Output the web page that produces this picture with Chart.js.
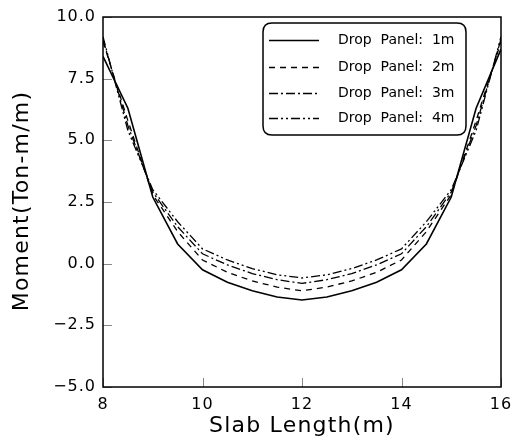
<!DOCTYPE html>
<html>
<head>
<meta charset="utf-8">
<script src="https://cdn.jsdelivr.net/npm/chart.js@4"></script>
<style>
html,body{margin:0;padding:0;background:#fff;}
#wrap{width:512px;height:438px;}
</style>
</head>
<body>
<div id="wrap"><canvas id="c" width="512" height="438"></canvas></div>
<script>
const xValues = [8, 8.5, 9, 9.5, 10, 10.5, 11, 11.5, 12, 12.5, 13, 13.5, 14, 14.5, 15, 15.5, 16];
const panel1m = [8.4, 6.3, 2.7, 0.8, -0.25, -0.75, -1.1, -1.35, -1.47, -1.35, -1.1, -0.75, -0.25, 0.8, 2.7, 6.3, 8.7];
const panel2m = [9.0, 5.8, 2.8, 1.3, 0.15, -0.35, -0.7, -0.95, -1.1, -0.95, -0.7, -0.35, 0.15, 1.3, 2.8, 5.8, 9.0];
const panel3m = [9.1, 5.6, 2.9, 1.5, 0.4, -0.05, -0.4, -0.65, -0.8, -0.65, -0.4, -0.05, 0.4, 1.5, 2.9, 5.6, 9.1];
const panel4m = [9.2, 5.4, 3.0, 1.7, 0.6, 0.15, -0.2, -0.45, -0.58, -0.45, -0.2, 0.15, 0.6, 1.7, 3.0, 5.4, 9.2];
const seriesLabels = ['Drop Panel: 1m', 'Drop Panel: 2m', 'Drop Panel: 3m', 'Drop Panel: 4m'];
const xTicks = [8, 10, 12, 14, 16];
const yTicks = [-5, -2.5, 0, 2.5, 5, 7.5, 10];
const xTitle = 'Slab Length(m)';
const yTitle = 'Moment(Ton-m/m)';

const dashes = [[], [6, 5], [9, 3, 2, 3], [9, 3, 2, 3, 2, 3]];
const widths = [1.6, 1.3, 1.3, 1.3];
const allSeries = [panel1m, panel2m, panel3m, panel4m];

const datasets = allSeries.map((s, i) => ({
  label: seriesLabels[i],
  data: xValues.map((x, j) => ({x: x, y: s[j]})),
  borderColor: '#000',
  borderWidth: widths[i],
  borderDash: dashes[i],
  pointRadius: 0,
  tension: 0,
  fill: false
}));

const FONT = "'DejaVu Sans', sans-serif";

const framePlugin = {
  id: 'frame',
  beforeDraw(chart) {
    chart.ctx.letterSpacing = '1px';
  },
  afterDraw(chart) {
    const ctx = chart.ctx;
    const a = chart.chartArea;
    ctx.save();
    ctx.letterSpacing = '0px';
    // inner ticks
    ctx.strokeStyle = '#888';
    ctx.lineWidth = 1;
    const xs = chart.scales.x, ys = chart.scales.y;
    xTicks.forEach(v => {
      const px = Math.round(xs.getPixelForValue(v)) + 0.5;
      ctx.beginPath(); ctx.moveTo(px, a.bottom); ctx.lineTo(px, a.bottom - 9); ctx.stroke();
    });
    yTicks.forEach(v => {
      const py = Math.round(ys.getPixelForValue(v)) + 0.5;
      ctx.beginPath(); ctx.moveTo(a.left, py); ctx.lineTo(a.left + 9, py); ctx.stroke();
    });
    // frame
    ctx.strokeStyle = '#000';
    ctx.lineWidth = 1.5;
    ctx.strokeRect(a.left, a.top, a.right - a.left, a.bottom - a.top);

    // axis titles
    ctx.fillStyle = '#000';
    ctx.font = '22px ' + FONT;
    ctx.letterSpacing = '1.2px';
    ctx.textAlign = 'center';
    ctx.textBaseline = 'middle';
    ctx.fillText(xTitle, (a.left + a.right) / 2, 426);
    ctx.save();
    ctx.translate(22, (a.top + a.bottom) / 2 - 1);
    ctx.rotate(-Math.PI / 2);
    ctx.fillText(yTitle, 0, 0);
    ctx.restore();
    ctx.letterSpacing = '0px';

    // legend
    const lx = 263, ly = 23, lw = 203, lh = 112, r = 9;
    ctx.beginPath();
    ctx.moveTo(lx + r, ly);
    ctx.lineTo(lx + lw - r, ly);
    ctx.quadraticCurveTo(lx + lw, ly, lx + lw, ly + r);
    ctx.lineTo(lx + lw, ly + lh - r);
    ctx.quadraticCurveTo(lx + lw, ly + lh, lx + lw - r, ly + lh);
    ctx.lineTo(lx + r, ly + lh);
    ctx.quadraticCurveTo(lx, ly + lh, lx, ly + lh - r);
    ctx.lineTo(lx, ly + r);
    ctx.quadraticCurveTo(lx, ly, lx + r, ly);
    ctx.closePath();
    ctx.fillStyle = '#fff';
    ctx.fill();
    ctx.lineWidth = 1.5;
    ctx.strokeStyle = '#000';
    ctx.stroke();

    const rows = [40, 67, 93, 118];
    ctx.font = '14px ' + FONT;
    ctx.textBaseline = 'middle';
    ctx.textAlign = 'left';
    ctx.fillStyle = '#000';
    chart.data.datasets.forEach((ds, i) => {
      const y = rows[i] + 0.5;
      ctx.beginPath();
      ctx.setLineDash(ds.borderDash);
      ctx.lineWidth = ds.borderWidth;
      ctx.moveTo(269, y); ctx.lineTo(319, y); ctx.stroke();
      ctx.setLineDash([]);
      ctx.fillText(ds.label.replace(/ /g, '  '), 338, rows[i]);
    });
    ctx.restore();
  }
};

new Chart(document.getElementById('c'), {
  type: 'line',
  data: {datasets: datasets},
  plugins: [framePlugin],
  options: {
    responsive: false,
    animation: false,
    devicePixelRatio: 1,
    layout: {padding: {top: 17, right: 11, left: 0, bottom: 0}},
    plugins: {legend: {display: false}, tooltip: {enabled: false}},
    scales: {
      x: {
        type: 'linear',
        min: 8, max: 16,
        afterBuildTicks(s) { s.ticks = xTicks.map(v => ({value: v})); },
        afterFit(s) { s.height = 51; s.paddingLeft = 0; s.paddingRight = 0; },
        grid: {display: false, tickLength: 0},
        border: {display: false},
        ticks: {color: '#000', font: {family: FONT, size: 16}, padding: 8, maxRotation: 0},
        title: {display: false}
      },
      y: {
        type: 'linear',
        min: -5, max: 10,
        afterBuildTicks(s) { s.ticks = yTicks.map(v => ({value: v})); },
        afterFit(s) { s.width = 103; s.paddingTop = 0; s.paddingBottom = 0; },
        grid: {display: false, tickLength: 0},
        border: {display: false},
        ticks: {color: '#000', font: {family: FONT, size: 16}, padding: 7,
          callback: v => Number(v).toFixed(1).replace('-', '\u2212')},
        title: {display: false}
      }
    }
  }
});
</script>
</body>
</html>
